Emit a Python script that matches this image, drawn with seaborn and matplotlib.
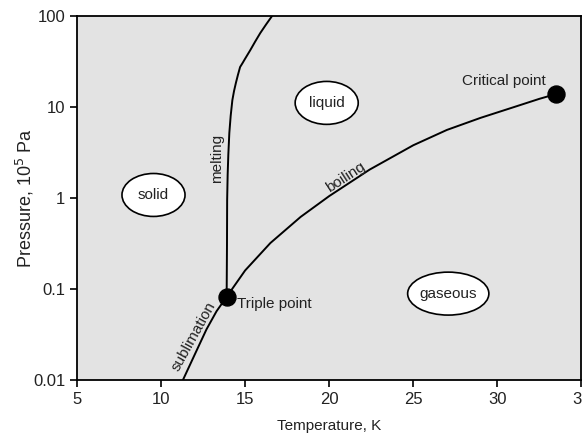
import matplotlib
matplotlib.use('Agg')
import matplotlib.pyplot as plt
import seaborn as sns
from matplotlib.ticker import NullLocator
from matplotlib.patches import Ellipse

# --- data ---
boil_T = [11.3, 12.0, 12.7, 13.3, 13.9, 15.0, 16.5, 18.3, 20.0, 22.4, 25.0, 27.0, 29.0, 31.0, 32.5, 33.5]
boil_P = [0.010, 0.019, 0.036, 0.057, 0.082, 0.16, 0.32, 0.62, 1.05, 2.05, 3.8, 5.6, 7.6, 10.0, 12.3, 13.9]

melt_T = [13.9, 13.92, 13.93, 13.96, 14.0, 14.06, 14.14, 14.24, 14.34, 14.45, 14.57, 14.7, 14.85,
          15.0, 15.3, 15.6, 15.9, 16.25, 16.6]
melt_P = [0.082, 0.3, 0.95, 1.8, 3.0, 5.2, 8.0, 11.9, 15.0, 18.4, 22.5, 27.5, 30.5,
          34.0, 42.0, 52.5, 65.0, 81.0, 100.0]

special_T = [13.9, 33.5]
special_P = [0.082, 13.9]
special_names = ['Triple point', 'Critical point']

phase_names = ['solid', 'liquid', 'gaseous']
phase_T = [9.55, 19.85, 27.08]
phase_P = [1.08, 11.1, 0.089]

x_ticks = [5, 10, 15, 20, 25, 30, 35]
y_ticks = [0.01, 0.1, 1, 10, 100]
y_labels = ['0.01', '0.1', '1', '10', '100']

sns.set_style('ticks')
plt.rcParams['font.family'] = ['Liberation Sans', 'DejaVu Sans']
txt = '#222222'

fig = plt.figure(figsize=(5.82, 4.33), dpi=100)
ax = fig.add_axes([0.1323, 0.1224, 0.8667, 0.8406])
ax.set_facecolor('#e3e3e3')

sns.lineplot(x=boil_T, y=boil_P, ax=ax, color='black', lw=1.4, sort=False)
sns.lineplot(x=melt_T, y=melt_P, ax=ax, color='black', lw=1.4, sort=False)
sns.scatterplot(x=special_T, y=special_P, ax=ax, color='black', s=150, edgecolor='black', zorder=5)

ax.set_yscale('log')
ax.set_xlim(5, 35)
ax.set_ylim(0.01, 100)
ax.set_xticks(x_ticks)
ax.set_yticks(y_ticks)
ax.set_yticklabels(y_labels)
ax.yaxis.set_minor_locator(NullLocator())
ax.tick_params(axis='both', labelsize=12, length=5, width=1.2, color='black', labelcolor=txt)
for s in ax.spines.values():
    s.set_color('black')
    s.set_linewidth(1.3)

ax.set_xlabel('Temperature, K', fontsize=11, color=txt, labelpad=9)
ax.set_ylabel('Pressure, 10$^5$ Pa', fontsize=13, color=txt, labelpad=-2)

# point labels
ax.text(special_T[0] + 0.6, special_P[0], special_names[0], fontsize=11, va='top', ha='left', color=txt)
ax.text(special_T[1] - 0.6, special_P[1] * 1.15, special_names[1], fontsize=11, va='bottom', ha='right', color=txt)

# phase regions in ellipses
to_axes = ax.transData + ax.transAxes.inverted()
for name, t, p in zip(phase_names, phase_T, phase_P):
    cx, cy = to_axes.transform((t, p))
    w = 0.161 if name == 'gaseous' else 0.125
    ax.add_patch(Ellipse((cx, cy), w, 0.118, transform=ax.transAxes,
                         fc='white', ec='black', lw=1.2, zorder=3))
    ax.text(t, p, name, fontsize=11, ha='center', va='center', color=txt, zorder=4)

# curve labels
ax.text(13.33, 2.7, 'melting', fontsize=11, rotation=90, ha='center', va='center', color=txt)
ax.text(21.0, 1.7, 'boiling', fontsize=11, rotation=33, ha='center', va='center', color=txt)
ax.text(11.96, 0.030, 'sublimation', fontsize=11, rotation=61, ha='center', va='center', color=txt)

fig.savefig('out.png', dpi=100)
